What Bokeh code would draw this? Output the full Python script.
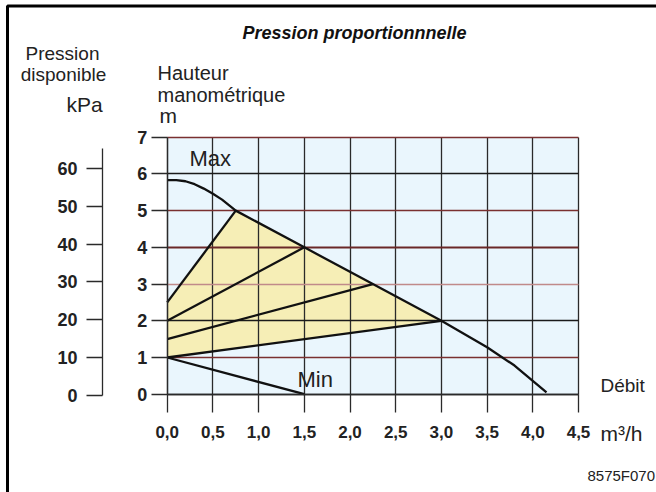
from bokeh.plotting import figure
from bokeh.models import (LinearAxis, Range1d, FixedTicker, Grid, Label,
                          CustomJSTickFormatter, BoxAnnotation)
from bokeh.embed import file_html
from bokeh.resources import INLINE

# ---------------- data ----------------
q_ticks = [0.0, 0.5, 1.0, 1.5, 2.0, 2.5, 3.0, 3.5, 4.0, 4.5]
h_ticks = [0, 1, 2, 3, 4, 5, 6, 7]
kpa_ticks = [0, 10, 20, 30, 40, 50, 60]

# Max curve (m3/h, m)
max_q = [0.0, 0.1, 0.2, 0.3, 0.4, 0.5, 0.6, 0.75, 1.5, 2.25, 3.0, 3.5, 3.8, 4.15]
max_h = [5.83, 5.83, 5.8, 5.72, 5.6, 5.46, 5.3, 5.0, 4.0, 3.0, 2.0, 1.28, 0.78, 0.05]

# proportional pressure lines
prop_q_start = [0.0, 0.0, 0.0, 0.0]
prop_h_start = [2.5, 2.0, 1.5, 1.0]
prop_q_end = [0.75, 1.5, 2.25, 3.0]
prop_h_end = [5.0, 4.0, 3.0, 2.0]

# Min line
min_q = [0.0, 1.5]
min_h = [1.0, 0.0]

# yellow band polygon built from the arrays above
band = [(q, h) for q, h in zip(max_q, max_h) if prop_q_end[0] <= q <= prop_q_end[-1]]
fill_q = [prop_q_start[-1]] + [q for q, h in reversed(band)] + [prop_q_start[0]]
fill_h = [prop_h_start[-1]] + [h for q, h in reversed(band)] + [prop_h_start[0]]

FONT = "Liberation Sans"
DARK = "#2a2a2a"
RED = "#7a3030"
PINK = "#c08a8a"
W, H = 656, 492

# the frame covers the whole canvas; axes are pinned with fixed_location
p = figure(width=W, height=H, x_range=Range1d(-1.8239, 5.3534),
           y_range=Range1d(-2.6774, 10.7234),
           output_backend="svg", toolbar_location=None, min_border=0)
p.background_fill_color = "white"
p.border_fill_color = "white"
p.outline_line_color = None


def style_axis(a, size):
    a.major_tick_in = 0
    a.minor_tick_out = 0
    a.minor_tick_in = 0
    a.major_tick_line_color = DARK
    a.major_tick_line_width = 1.3
    a.axis_line_color = DARK
    a.axis_line_width = 1.3
    a.major_label_text_font = FONT
    a.major_label_text_font_style = "bold"
    a.major_label_text_font_size = size
    a.major_label_text_color = "#222222"


# ---- x axis ----
xa = p.xaxis[0]
style_axis(xa, "17px")
xa.fixed_location = 0
xa.bounds = (q_ticks[0], q_ticks[-1])
xa.ticker = FixedTicker(ticks=q_ticks)
xa.formatter = CustomJSTickFormatter(code="return tick.toFixed(1).replace('.', ',')")
xa.major_tick_out = 18
xa.major_label_standoff = 14

# ---- m axis ----
ya = p.yaxis[0]
style_axis(ya, "18px")
ya.fixed_location = 0
ya.bounds = (h_ticks[0], h_ticks[-1])
ya.ticker = FixedTicker(ticks=h_ticks)
ya.major_tick_out = 16
ya.major_label_standoff = 4

# ---- kPa axis ----
p.extra_y_ranges = {"kpa": Range1d(-25.79, 104.60)}
ka = LinearAxis(y_range_name="kpa", ticker=FixedTicker(ticks=kpa_ticks),
                bounds=(0, 65.3), fixed_location=-0.708)
style_axis(ka, "18px")
ka.major_tick_out = 16
ka.major_label_standoff = 9
p.add_layout(ka, "left")

# ---- background of the diagram ----
bg = p.quad(left=[q_ticks[0]], right=[q_ticks[-1]], bottom=[h_ticks[0]],
            top=[h_ticks[-1]], fill_color="#eaf6fd", line_color=None)
bg.level = "image"
band_r = p.patch(fill_q, fill_h, fill_color="#f6eeb6", line_color=None)
band_r.level = "image"

# ---- grids ----
p.xgrid.ticker = FixedTicker(ticks=q_ticks)
p.xgrid.grid_line_color = DARK
p.xgrid.grid_line_width = 1.3
p.xgrid.cross_bounds = (h_ticks[0], h_ticks[-1])
p.ygrid.ticker = FixedTicker(ticks=[0, 2, 6])
p.ygrid.grid_line_color = "#1a1a1a"
p.ygrid.grid_line_width = 1.3
p.ygrid.cross_bounds = (q_ticks[0], q_ticks[-1])
g_red = Grid(dimension=1, ticker=FixedTicker(ticks=[1, 5, 7]), grid_line_color=RED,
             grid_line_width=1.6, cross_bounds=(q_ticks[0], q_ticks[-1]))
g_red4 = Grid(dimension=1, ticker=FixedTicker(ticks=[4]), grid_line_color="#6a2828",
              grid_line_width=2.2, cross_bounds=(q_ticks[0], q_ticks[-1]))
g_pink = Grid(dimension=1, ticker=FixedTicker(ticks=[3]), grid_line_color=PINK,
              grid_line_width=1.6, cross_bounds=(q_ticks[0], q_ticks[-1]))
p.add_layout(g_red)
p.add_layout(g_red4)
p.add_layout(g_pink)

# ---- curves ----
p.line(max_q, max_h, line_color="#111111", line_width=2.3)
p.segment(prop_q_start, prop_h_start, prop_q_end, prop_h_end,
          line_color="#111111", line_width=2.3)
p.line(min_q, min_h, line_color="#111111", line_width=2.3)

# ---- outer frame (top and left edges) ----
p.add_layout(BoxAnnotation(left=7, right=W + 40, top=H - 5.5, bottom=-40,
                           left_units="screen", right_units="screen",
                           top_units="screen", bottom_units="screen",
                           fill_alpha=0, line_color="black", line_alpha=1.0,
                           line_width=3))

# ---- texts (page pixel positions) ----


def lab(text, px, py, size, style="normal", align="left", color="#222222"):
    p.add_layout(Label(x=px, y=H - py, x_units="screen", y_units="screen",
                       text=text, text_font=FONT, text_font_size=size,
                       text_font_style=style, text_align=align,
                       text_baseline="middle", text_color=color))


lab("Pression proportionnnelle", 354, 32, "18px", "bold italic", "center", "#111111")
lab("Pression", 62, 53, "19px", align="center")
lab("disponible", 63, 74, "19px", align="center")
lab("kPa", 84, 104, "21px", align="center")
lab("Hauteur", 157, 72, "20px")
lab("manométrique", 157, 94, "20px")
lab("m", 159, 115, "21px")
lab("Max", 189, 158, "22px")
lab("Min", 297, 379, "22px")
lab("Débit", 600, 385, "19px")
lab("m\u00b3/h", 600, 433, "21px")
lab("8575F070", 587, 475, "15px")

open("out.html", "w").write(file_html(p, INLINE))
